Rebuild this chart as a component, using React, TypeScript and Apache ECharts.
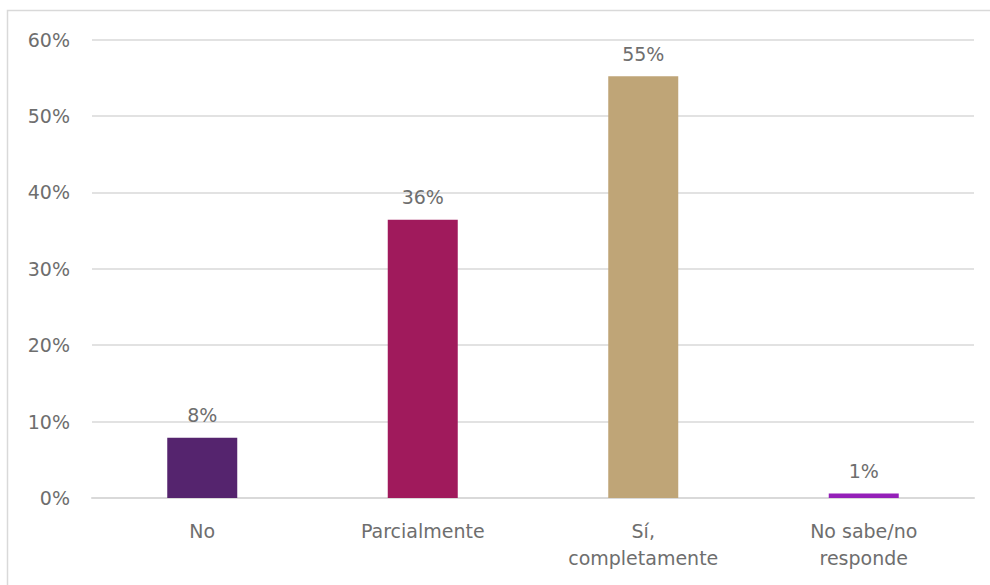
import React, { useEffect, useRef } from "react";
import * as echarts from "echarts";

const categories = ["No", "Parcialmente", "Sí,\ncompletamente", "No sabe/no\nresponde"];
const values = [7.9, 36.4, 55.2, 0.6];
const barColors = ["#55246E", "#A01A5C", "#BFA577", "#9420B8"];
const yTicks = [0, 10, 20, 30, 40, 50, 60];

const FONT = "DejaVu Sans";
const TEXT = "#6e6e6e";

export default function App() {
  const ref = useRef<HTMLDivElement>(null);
  useEffect(() => {
    if (!ref.current) return;
    const chart = echarts.init(ref.current, null, { renderer: "svg" });
    chart.setOption({
      animation: false,
      graphic: [
        {
          type: "rect",
          shape: { x: 7.5, y: 10.5, width: 1000, height: 600 },
          style: { fill: "none", stroke: "#d9d9d9", lineWidth: 1.5 },
          silent: true,
        },
      ],
      grid: { left: 92, right: 16, top: 39.5, bottom: 87, containLabel: false },
      xAxis: {
        type: "category",
        data: categories,
        axisLine: { show: true, lineStyle: { color: "#d9d9d9", width: 2 } },
        axisTick: { show: false },
        axisLabel: {
          color: TEXT,
          fontFamily: FONT,
          fontSize: 19,
          margin: 19,
          lineHeight: 27,
          interval: 0,
        },
      },
      yAxis: {
        type: "value",
        min: yTicks[0],
        max: yTicks[yTicks.length - 1],
        interval: 10,
        axisLine: { show: false },
        axisTick: { show: false },
        splitLine: { lineStyle: { color: "#d9d9d9", width: 1.5 } },
        axisLabel: {
          color: TEXT,
          fontFamily: FONT,
          fontSize: 19,
          margin: 22,
          formatter: (v: number) => `${v}%`,
        },
      },
      series: [
        {
          type: "bar",
          barWidth: 70,
          data: values.map((v, i) => ({ value: v, itemStyle: { color: barColors[i] } })),
          label: {
            show: true,
            position: "top",
            distance: 13,
            color: TEXT,
            fontFamily: FONT,
            fontSize: 19,
            formatter: (p: any) => `${Math.round(p.value)}%`,
          },
        },
      ],
    });
    return () => chart.dispose();
  }, []);
  return (
    <div
      ref={ref}
      style={{ position: "fixed", left: 0, top: 0, width: 990, height: 585, background: "#fff" }}
    />
  );
}
